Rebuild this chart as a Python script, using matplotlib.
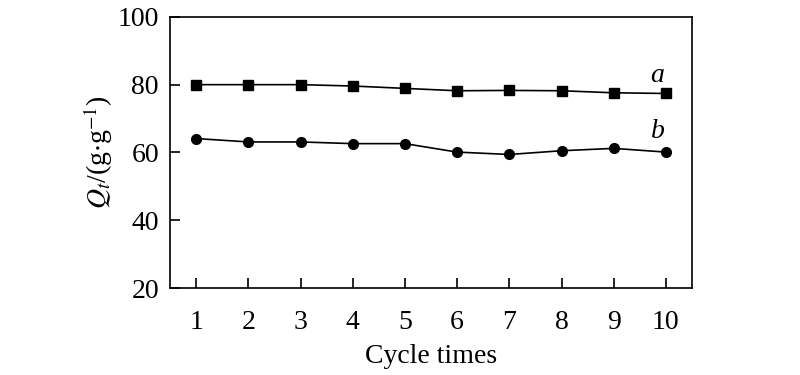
import matplotlib
matplotlib.use('Agg')
import matplotlib.pyplot as plt

cycles = [1, 2, 3, 4, 5, 6, 7, 8, 9, 10]
qa = [80.0, 80.0, 80.0, 79.6, 78.9, 78.2, 78.3, 78.2, 77.6, 77.4]
qb = [64.1, 63.1, 63.1, 62.6, 62.6, 60.1, 59.4, 60.5, 61.2, 60.1]
yticks = [20, 40, 60, 80, 100]

plt.rcParams['font.family'] = 'Liberation Serif'
plt.rcParams['mathtext.fontset'] = 'stix'

fig = plt.figure(figsize=(8, 3.75), dpi=100)
ax = fig.add_axes([0.2125, 0.232, 0.6525, 0.723])

ax.plot(cycles, qa, color='black', lw=1.2, marker='s', ms=6.5)
ax.plot(cycles, qb, color='black', lw=1.2, marker='o', ms=7)
ax.text(9.84, 82.8, 'a', fontsize=20, style='italic', ha='center', va='center')
ax.text(9.84, 66.2, 'b', fontsize=20, style='italic', ha='center', va='center')

ax.set_xlim(0.5, 10.5)
ax.set_ylim(20, 100)
ax.set_xticks(cycles)
ax.set_yticks(yticks)
ax.tick_params(direction='in', length=7, width=1.2, labelsize=20, top=False, right=False)
ax.tick_params(axis='x', pad=16)
ax.tick_params(axis='y', pad=8)
for s in ax.spines.values():
    s.set_linewidth(1.2)

ax.set_xlabel('Cycle times', fontsize=20, labelpad=6)
ax.set_ylabel(r'$Q_t$/(g$\cdot$g$^{-1}$)', fontsize=20, labelpad=2)

fig.savefig('out.png', dpi=100)
